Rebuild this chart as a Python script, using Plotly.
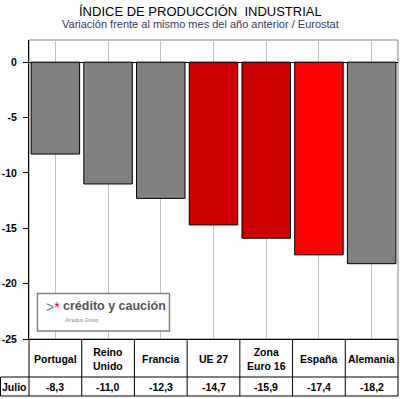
import plotly.graph_objects as go

# ---- data ----
categories = ["Portugal", "Reino<br>Unido", "Francia", "UE 27", "Zona<br>Euro 16", "España", "Alemania"]
values = [-8.3, -11.0, -12.3, -14.7, -15.9, -17.4, -18.2]
bar_colors = ["#808080", "#808080", "#808080", "#CC0000", "#CC0000", "#FF0000", "#808080"]
row_label = "Julio"
y_ticks = [0, -5, -10, -15, -20, -25]
title = "ÍNDICE DE PRODUCCIÓN  INDUSTRIAL"
subtitle = "Variación frente al mismo mes del año anterior / Eurostat"

# ---- layout geometry (pixels) ----
W, H = 400, 399
L, R, T, B = 29, 2, 40, 60
PW, PH = W - L - R, H - T - B
FONT = "Liberation Sans, Arial, sans-serif"

def px(xpix):
    return (xpix - L) / PW

def py(ypix):
    return (H - B - ypix) / PH

n = len(categories)
xmin, xmax = -0.5, n - 0.5

def cx(v):
    return (v - xmin) / (xmax - xmin)

row1_bottom = 377
row2_bottom = 396

fig = go.Figure()
fig.add_trace(go.Bar(
    x=list(range(n)), y=values,
    marker=dict(color=bar_colors, line=dict(color="black", width=1)),
    hoverinfo="skip",
))

shapes = []
# plot area frame (gray)
shapes.append(dict(type="rect", xref="paper", yref="paper", x0=0, x1=1, y0=0, y1=1,
                   line=dict(color="#808080", width=1), layer="below"))
# table horizontal lines
for yy in (row1_bottom, row2_bottom):
    shapes.append(dict(type="line", xref="paper", yref="paper", x0=px(0.5), x1=1,
                       y0=py(yy), y1=py(yy), line=dict(color="black", width=1)))
# table vertical lines
for k in range(n + 1):
    xk = cx(k - 0.5)
    shapes.append(dict(type="line", xref="paper", yref="paper", x0=xk, x1=xk,
                       y0=0, y1=py(row2_bottom), line=dict(color="black", width=1)))
shapes.append(dict(type="line", xref="paper", yref="paper", x0=px(0.5), x1=px(0.5),
                   y0=py(row1_bottom), y1=py(row2_bottom), line=dict(color="black", width=1)))
# logo box
shapes.append(dict(type="rect", xref="paper", yref="paper", x0=px(37.5), x1=px(169.5),
                   y0=py(331), y1=py(293.5), fillcolor="white",
                   line=dict(color="#808080", width=1.5)))

annotations = []
annotations.append(dict(text=title, xref="paper", yref="paper", x=px(200), y=py(11),
                        showarrow=False, font=dict(family=FONT, size=13, color="black"),
                        xanchor="center", yanchor="middle"))
annotations.append(dict(text=subtitle, xref="paper", yref="paper", x=px(200), y=py(24),
                        showarrow=False, font=dict(family=FONT, size=11, color="#3a3a5a"),
                        xanchor="center", yanchor="middle"))
for i, (c, v) in enumerate(zip(categories, values)):
    annotations.append(dict(text="<b>" + c.replace("<br>", "</b><br><b>") + "</b>", xref="x", yref="paper",
                            x=i, y=py(358.5),
                            showarrow=False, font=dict(family=FONT, size=10.5, color="black"),
                            xanchor="center", yanchor="middle"))
    annotations.append(dict(text="<b>" + f"{v:.1f}".replace(".", ",") + "</b>", xref="x", yref="paper",
                            x=i, y=py(387), showarrow=False,
                            font=dict(family=FONT, size=10.5, color="black"),
                            xanchor="center", yanchor="middle"))
annotations.append(dict(text="<b>" + row_label + "</b>", xref="paper", yref="paper", x=px(14.5), y=py(387),
                        showarrow=False, font=dict(family=FONT, size=10.5, color="black"),
                        xanchor="center", yanchor="middle"))
# logo text
annotations.append(dict(text="<span style='color:#7a7a7a'>&gt;</span><span style='color:#e00000'>*</span>",
                        xref="paper", yref="paper", x=px(44), y=py(307), showarrow=False,
                        font=dict(family=FONT, size=14), xanchor="left", yanchor="middle"))
annotations.append(dict(text="<b>crédito y caución</b>", xref="paper", yref="paper", x=px(61), y=py(306),
                        showarrow=False, font=dict(family=FONT, size=12.5, color="#555555"),
                        xanchor="left", yanchor="middle"))
annotations.append(dict(text="Atradius Group", xref="paper", yref="paper", x=px(63), y=py(320),
                        showarrow=False, font=dict(family=FONT, size=5, color="#888888"),
                        xanchor="left", yanchor="middle"))

fig.update_layout(
    width=W, height=H,
    margin=dict(l=L, r=R, t=T, b=B),
    paper_bgcolor="white", plot_bgcolor="white",
    showlegend=False,
    bargap=0.08,
    shapes=shapes,
    annotations=annotations,
    font=dict(family=FONT),
    xaxis=dict(range=[xmin, xmax], tickmode="array", tickvals=list(range(n)),
               showticklabels=False, ticks="", tickson="boundaries",
               showgrid=True, gridcolor="#c0c0c0", gridwidth=1,
               showline=True, linecolor="black", linewidth=1, zeroline=False, fixedrange=True),
    yaxis=dict(range=[-25, 2], tickmode="array", tickvals=y_ticks,
               ticktext=["<b>%d</b>" % t for t in y_ticks],
               ticks="outside", ticklen=5, tickcolor="black", tickwidth=1,
               ticklabelstandoff=4,
               tickfont=dict(family=FONT, size=10.5, color="black"),
               showgrid=False, zeroline=True, zerolinecolor="black", zerolinewidth=1,
               showline=True, linecolor="black", linewidth=1, fixedrange=True),
)

fig.write_html("out.html", config={"displayModeBar": False},
               post_script="document.body.style.margin='0';document.body.style.overflow='hidden';")
